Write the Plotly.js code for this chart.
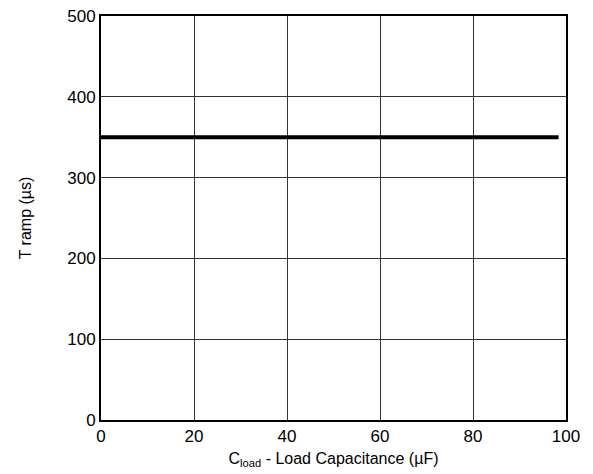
<!DOCTYPE html>
<html>
<head>
<meta charset="utf-8">
<script src="https://cdn.plot.ly/plotly-3.0.1.min.js"></script>
<style>html,body{margin:0;padding:0;background:#fff;}#chart{width:593px;height:474px;}</style>
</head>
<body>
<div id="chart"></div>
<script>
const capacitance = [0, 98.4];
const tramp = [350, 350];
const xTicks = [0, 20, 40, 60, 80, 100];
const yTicks = [0, 100, 200, 300, 400, 500];

const trace = {
  x: capacitance, y: tramp, type: 'scatter', mode: 'lines',
  line: {color: '#000', width: 4}, hoverinfo: 'none'
};
const tickFont = {family: 'Liberation Sans, Arial, sans-serif', size: 17, color: '#000'};
const titleFont = {family: 'Liberation Sans, Arial, sans-serif', size: 16, color: '#000'};
const layout = {
  width: 593, height: 474,
  margin: {l: 101, r: 27, t: 16, b: 54},
  paper_bgcolor: '#fff', plot_bgcolor: '#fff',
  showlegend: false,
  font: tickFont,
  xaxis: {
    range: [0, 100], tickvals: xTicks, ticktext: xTicks.map(String),
    showgrid: true, gridcolor: '#333', gridwidth: 1,
    showline: true, linecolor: '#000', linewidth: 2, mirror: true,
    zeroline: false, ticks: '', ticklen: 0,
    tickfont: tickFont,
    title: {text: 'C<sub>load</sub> - Load Capacitance (µF)', font: titleFont, standoff: 7}
  },
  yaxis: {
    range: [0, 500], tickvals: yTicks, ticktext: yTicks.map(String),
    showgrid: true, gridcolor: '#333', gridwidth: 1,
    showline: true, linecolor: '#000', linewidth: 2, mirror: true,
    zeroline: false, ticks: '', ticklen: 0,
    tickfont: tickFont,
    title: {text: 'T ramp (µs)', font: titleFont, standoff: 32}
  }
};
Plotly.newPlot('chart', [trace], layout, {staticPlot: true, displayModeBar: false});
</script>
</body>
</html>
